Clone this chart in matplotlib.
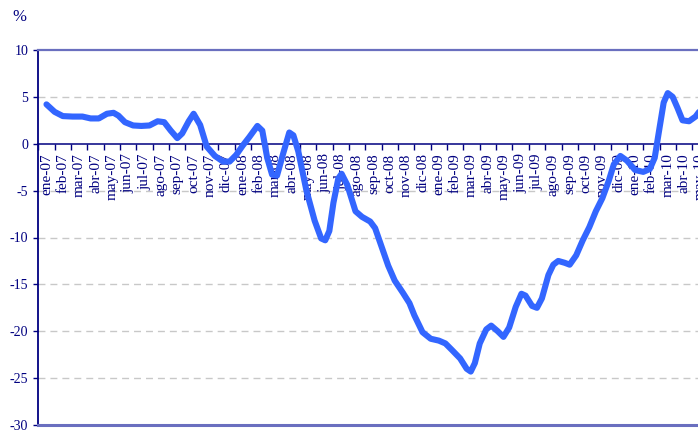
import numpy as np
import matplotlib
matplotlib.use("Agg")
import matplotlib.pyplot as plt

plt.rcParams['font.family'] = ['Liberation Serif', 'DejaVu Serif']
plt.rcParams['axes.unicode_minus'] = False

NAVY = '#000080'
FRAME = '#6a6fbf'
LINE = '#3366ff'

# month categories on the x axis
month_names = ['ene', 'feb', 'mar', 'abr', 'may', 'jun',
               'jul', 'ago', 'sep', 'oct', 'nov', 'dic']
years = ['07', '08', '09', '10']
categories = [f"{m}-{y}" for y in years for m in month_names][:42]

# position in months since ene-07 and yearly rate (%)
meses = [0.0, 0.5, 1.0, 1.6, 2.2, 2.7, 3.2, 3.7, 4.1, 4.4,
         4.8, 5.3, 5.8, 6.3, 6.8, 7.2, 7.6, 8.0, 8.3, 8.7,
         9.0, 9.4, 9.8, 10.3, 10.8, 11.2, 11.6, 12.0, 12.4, 12.9,
         13.2, 13.5, 13.8, 14.1, 14.5, 14.85, 15.1, 15.4, 15.9, 16.4,
         16.8, 17.05, 17.3, 17.55, 17.85, 18.05, 18.4, 18.9, 19.3, 19.8,
         20.1, 20.5, 20.9, 21.3, 21.8, 22.2, 22.5, 23.0, 23.5, 24.0,
         24.4, 24.8, 25.3, 25.7, 25.95, 26.2, 26.5, 26.9, 27.2, 27.6,
         27.95, 28.3, 28.7, 29.05, 29.3, 29.7, 30.0, 30.3, 30.7, 31.0,
         31.3, 31.7, 32.0, 32.4, 32.8, 33.2, 33.6, 34.0, 34.4, 34.7,
         35.1, 35.5, 36.0, 36.5, 36.9, 37.2, 37.45, 37.75, 38.0, 38.3,
         38.6, 38.9, 39.3, 39.7, 40.0]
tasa = [4.2, 3.4, 2.95, 2.9, 2.9, 2.7, 2.7, 3.2, 3.3, 3.0,
        2.3, 1.95, 1.9, 1.95, 2.4, 2.3, 1.4, 0.6, 1.1, 2.4,
        3.2, 2.0, -0.3, -1.3, -1.9, -1.9, -1.2, -0.2, 0.7, 1.9,
        1.4, -1.5, -3.3, -3.4, -0.9, 1.2, 0.9, -0.8, -5.0, -8.2,
        -10.1, -10.3, -9.3, -6.3, -3.7, -3.2, -4.4, -7.2, -7.8, -8.3,
        -9.0, -11.0, -13.0, -14.6, -15.9, -17.0, -18.3, -20.1, -20.8, -21.0,
        -21.3, -22.0, -22.9, -24.0, -24.3, -23.4, -21.3, -19.8, -19.4, -20.0,
        -20.6, -19.6, -17.4, -16.0, -16.2, -17.3, -17.5, -16.5, -14.0, -12.9,
        -12.5, -12.7, -12.9, -11.9, -10.3, -8.9, -7.2, -5.8, -3.9, -2.2,
        -1.3, -1.8, -2.8, -3.0, -2.7, -1.5, 1.2, 4.4, 5.4, 5.0,
        3.8, 2.5, 2.4, 2.9, 3.6]

y_ticks = [-30, -25, -20, -15, -10, -5, 0, 5, 10]
grid_levels = [5, -5, -10, -15, -20, -25]

W, H = 698, 430
fig = plt.figure(figsize=(W / 100, H / 100), dpi=100)
cat_w = 16.35
ax = fig.add_axes([38.3 / W, 5 / H, len(categories) * cat_w / W, 375 / H])
ax.set_xlim(-0.5, len(categories) - 0.5)
ax.set_ylim(-30, 10)

for v in grid_levels:
    ax.axhline(v, color='#c8c8c8', lw=1.0, dashes=(5, 3.6), zorder=0.5)
ax.axhline(-30, color=FRAME, lw=2.2, clip_on=False, zorder=2.6)

ax.plot(meses, tasa, color=LINE, lw=4.4, solid_joinstyle='round',
        solid_capstyle='round', zorder=3)

# spines: category axis crosses at 0
ax.spines['bottom'].set_position(('data', 0))
ax.spines['bottom'].set_color(NAVY)
ax.spines['bottom'].set_linewidth(1.1)
ax.spines['left'].set_color(NAVY)
ax.spines['left'].set_linewidth(1.3)
ax.spines['top'].set_color(FRAME)
ax.spines['top'].set_linewidth(1.6)
ax.spines['right'].set_visible(False)

ax.set_xticks(range(len(categories)))
ax.set_xticklabels(categories, rotation=90, fontsize=11, color=NAVY)
ax.set_xticks(np.arange(-0.5, len(categories), 1), minor=True)
ax.tick_params(axis='x', which='major', length=0, pad=7.0)
ax.tick_params(axis='x', which='minor', length=4.5, width=1, color=NAVY,
               direction='out')

ax.set_yticks(y_ticks)
ax.set_yticklabels([str(v) for v in y_ticks], fontsize=10, color=NAVY)
ax.tick_params(axis='y', length=3.6, width=1, color=NAVY, pad=3.6,
               direction='out')

fig.text(19 / W, 1 - 17 / H, '%', fontsize=12, color=NAVY,
         ha='center', va='center')

fig.savefig('out.png', dpi=100)
